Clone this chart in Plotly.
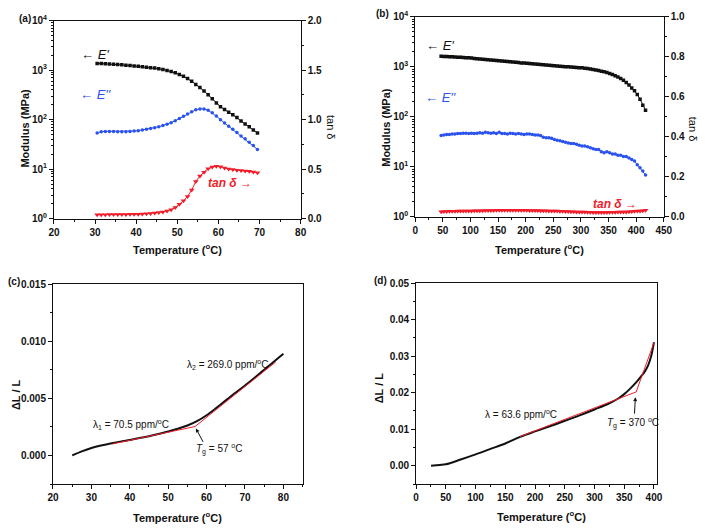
import plotly.graph_objects as go

# ---------------- DATA ----------------
# (a) DMA, low-temperature sample
Ta = [30.5, 31.5, 32.5, 33.5, 34.5, 35.5, 36.5, 37.5, 38.5, 39.5,
      40.5, 41.5, 42.5, 43.5, 44.5, 45.5, 46.5, 47.5, 48.5, 49.5,
      50.5, 51.5, 52.5, 53.5, 54.5, 55.5, 56.5, 57.5, 58.5, 59.5,
      60.5, 61.5, 62.5, 63.5, 64.5, 65.5, 66.5, 67.5, 68.5, 69.5]
Ea_storage = [1370, 1360, 1350, 1335, 1320, 1300, 1280, 1260, 1240, 1215,
              1195, 1175, 1150, 1125, 1100, 1070, 1035, 990, 940, 885,
              820, 750, 675, 595, 515, 445, 380, 318, 265, 218,
              183, 160, 142, 125, 110, 94, 82, 72, 62, 54]
Ea_loss = [54, 57, 58, 58, 58, 57, 57, 57, 58, 59,
           60, 62, 64, 66, 69, 72, 76, 81, 87, 95,
           105, 117, 130, 145, 158, 165, 165, 155, 138, 118,
           100, 86, 74, 64, 55, 47, 41, 35, 30, 25]
Ta_tan = [0.040, 0.040, 0.040, 0.041, 0.041, 0.042, 0.042, 0.043, 0.044, 0.045,
          0.046, 0.048, 0.050, 0.053, 0.057, 0.062, 0.068, 0.077, 0.090, 0.113,
          0.145, 0.180, 0.225, 0.290, 0.375, 0.430, 0.470, 0.505, 0.522, 0.530,
          0.525, 0.512, 0.503, 0.496, 0.490, 0.486, 0.482, 0.478, 0.472, 0.465]

# (b) DMA, high-temperature sample
Tb = [47, 52, 57, 62, 67, 72, 77, 82, 87, 92, 97, 102, 107, 112, 117,
      122, 127, 132, 137, 142, 147, 152, 157, 162, 167, 172, 177, 182, 187, 192,
      197, 202, 207, 212, 217, 222, 227, 232, 237, 242, 247, 252, 257, 262, 267,
      272, 277, 282, 287, 292, 297, 302, 307, 312, 317, 322, 327, 332, 337, 342,
      347, 352, 357, 362, 367, 372, 377, 382, 387, 392, 397, 402, 407, 412, 417]
Eb_storage = [1615, 1610, 1600, 1590, 1580, 1570, 1555, 1545, 1530, 1515, 1505, 1490, 1470, 1450, 1430,
              1410, 1395, 1375, 1360, 1345, 1330, 1315, 1300, 1285, 1270, 1255, 1240, 1225, 1210, 1195,
              1185, 1175, 1160, 1150, 1135, 1120, 1110, 1095, 1085, 1070, 1060, 1048, 1035, 1025, 1015,
              1005, 995, 985, 975, 965, 958, 950, 935, 920, 900, 880, 860, 840, 815, 790,
              765, 735, 700, 660, 620, 580, 535, 485, 430, 375, 330, 280, 225, 170, 135]
Eb_loss = [42, 43, 44, 44, 45, 45, 46, 46, 47, 47, 46, 47, 46, 47, 48,
           47, 49, 48, 47, 48, 46, 49, 46, 46, 45, 47, 46, 45, 46, 45,
           44, 45, 45, 44, 43, 43, 42, 39, 38, 38, 37, 35, 34, 33, 32,
           31, 30, 29, 29, 28, 27, 26, 26, 25, 24, 23, 22, 22, 20, 19,
           20, 19, 18, 18, 17, 17, 16, 16, 15, 14, 13, 11, 9.5, 8.2, 6.8]
Tb_tan = [0.025, 0.026, 0.026, 0.027, 0.027, 0.027, 0.028, 0.028, 0.028, 0.029, 0.029, 0.029, 0.030, 0.030, 0.030,
          0.030, 0.031, 0.031, 0.031, 0.031, 0.032, 0.032, 0.032, 0.032, 0.032, 0.032, 0.032, 0.032, 0.032, 0.032,
          0.032, 0.032, 0.031, 0.031, 0.031, 0.031, 0.030, 0.030, 0.030, 0.029, 0.029, 0.028, 0.028, 0.027, 0.027,
          0.026, 0.026, 0.025, 0.025, 0.024, 0.024, 0.023, 0.023, 0.022, 0.022, 0.021, 0.021, 0.021, 0.021, 0.021,
          0.021, 0.022, 0.022, 0.022, 0.023, 0.023, 0.024, 0.024, 0.025, 0.026, 0.027, 0.028, 0.029, 0.030, 0.032]

# (c) TMA, low-temperature sample
Tc = [25, 27.5, 30, 32.5, 35, 37.5, 40, 42.5, 45, 47.5, 50, 52.5, 55, 57.5,
      60, 62.5, 65, 67.5, 70, 72.5, 75, 77.5, 80]
dLc = [0.0, 0.00035, 0.00065, 0.00087, 0.00104, 0.00121, 0.00136, 0.00152, 0.00168, 0.00188,
       0.00210, 0.00234, 0.00262, 0.00300, 0.00352, 0.00415, 0.00482, 0.00548, 0.00612, 0.00680,
       0.00750, 0.00820, 0.00890]
fit1c_T = [35.5, 57]
fit1c_y = [0.00101, 0.00253]
fit2c_T = [57, 78]
fit2c_y = [0.00253, 0.00818]

# (d) TMA, high-temperature sample
Td = [25, 40, 50, 75, 100, 125, 150, 175, 200, 225, 250, 275, 300, 325,
      340, 350, 360, 370, 380, 385, 390, 395, 400]
dLd = [0.0, 0.0002, 0.0004, 0.0017, 0.0031, 0.0046, 0.0061, 0.0079, 0.0094, 0.0108,
       0.0123, 0.0138, 0.0154, 0.0171, 0.0184, 0.0196, 0.0211, 0.0228, 0.0248, 0.0259,
       0.0274, 0.0298, 0.0338]
fitd_T = [175, 370, 400]
fitd_y = [0.0080, 0.0202, 0.0337]

# ---------------- STYLE ----------------
W, H = 709, 530
FONT = "Liberation Sans"
BLACK = "#111111"
BLUE = "#2a52ee"
RED = "#f21c2a"

def px(x, y):
    return x / W, 1 - y / H

def dom_x(a, b):
    return [a / W, b / W]

def dom_y(top, bottom):
    return [1 - bottom / H, 1 - top / H]

tickfont = dict(family=FONT, size=10, color=BLACK, weight="bold")

def axis(**kw):
    d = dict(showline=True, linecolor=BLACK, linewidth=1, ticks="outside",
             ticklen=4, tickwidth=1, tickcolor=BLACK, showgrid=False,
             zeroline=False, tickfont=tickfont)
    d.update(kw)
    return d

def minor(dt):
    return dict(ticks="outside", ticklen=2, tickwidth=1, tickcolor=BLACK, showgrid=False, dtick=dt)

fig = go.Figure()

# (a)
fig.add_trace(go.Scatter(x=Ta, y=Ea_storage, mode="lines+markers", xaxis="x", yaxis="y",
                         line=dict(color=BLACK, width=1),
                         marker=dict(symbol="square", size=3.5, color=BLACK)))
fig.add_trace(go.Scatter(x=Ta, y=Ea_loss, mode="lines+markers", xaxis="x", yaxis="y",
                         line=dict(color=BLUE, width=1),
                         marker=dict(symbol="circle", size=3.5, color=BLUE)))
fig.add_trace(go.Scatter(x=Ta, y=Ta_tan, mode="lines+markers", xaxis="x", yaxis="y2",
                         line=dict(color=RED, width=1),
                         marker=dict(symbol="triangle-down", size=5, color=RED)))
# (b)
fig.add_trace(go.Scatter(x=Tb, y=Eb_storage, mode="lines+markers", xaxis="x2", yaxis="y3",
                         line=dict(color=BLACK, width=1),
                         marker=dict(symbol="square", size=3.5, color=BLACK)))
fig.add_trace(go.Scatter(x=Tb, y=Eb_loss, mode="lines+markers", xaxis="x2", yaxis="y3",
                         line=dict(color=BLUE, width=1),
                         marker=dict(symbol="circle", size=3.5, color=BLUE)))
fig.add_trace(go.Scatter(x=Tb, y=Tb_tan, mode="lines+markers", xaxis="x2", yaxis="y4",
                         line=dict(color=RED, width=1),
                         marker=dict(symbol="triangle-down", size=5, color=RED)))
# (c)
fig.add_trace(go.Scatter(x=Tc, y=dLc, mode="lines", xaxis="x3", yaxis="y5",
                         line=dict(color=BLACK, width=2, shape="spline")))
fig.add_trace(go.Scatter(x=fit1c_T, y=fit1c_y, mode="lines", xaxis="x3", yaxis="y5",
                         line=dict(color=RED, width=1)))
fig.add_trace(go.Scatter(x=fit2c_T, y=fit2c_y, mode="lines", xaxis="x3", yaxis="y5",
                         line=dict(color=RED, width=1)))
# (d)
fig.add_trace(go.Scatter(x=Td, y=dLd, mode="lines", xaxis="x4", yaxis="y6",
                         line=dict(color=BLACK, width=2, shape="spline")))
fig.add_trace(go.Scatter(x=fitd_T, y=fitd_y, mode="lines", xaxis="x4", yaxis="y6",
                         line=dict(color=RED, width=1)))

log_vals = [1, 10, 100, 1000, 10000]
log_text = ["10<sup>0</sup>", "10<sup>1</sup>", "10<sup>2</sup>", "10<sup>3</sup>", "10<sup>4</sup>"]

layout = dict(
    width=W, height=H, margin=dict(l=0, r=0, t=0, b=0),
    paper_bgcolor="white", plot_bgcolor="white", showlegend=False,
    font=dict(family=FONT, color=BLACK),
    # (a)
    xaxis=axis(domain=dom_x(49, 301), anchor="y", range=[20, 80], dtick=10,
               minor=minor(5), mirror=True),
    yaxis=axis(domain=dom_y(14, 217), anchor="x", type="log", range=[0, 4],
               tickvals=log_vals, ticktext=log_text, minor=minor("D1")),
    yaxis2=axis(overlaying="y", side="right", anchor="x", range=[0, 2.0], dtick=0.5,
                tickformat=".1f", minor=minor(0.25)),
    # (b)
    xaxis2=axis(domain=dom_x(418, 672), anchor="y3", range=[0, 450], dtick=50,
                minor=minor(25), mirror=True),
    yaxis3=axis(domain=dom_y(10, 215), anchor="x2", type="log", range=[0, 4],
                tickvals=log_vals, ticktext=log_text, minor=minor("D1")),
    yaxis4=axis(overlaying="y3", side="right", anchor="x2", range=[0, 1.0], dtick=0.2,
                tickformat=".1f", minor=minor(0.1)),
    # (c)
    xaxis3=axis(domain=dom_x(48, 303), anchor="y5", range=[20, 85], dtick=10, tick0=20,
                minor=minor(5), mirror=True),
    yaxis5=axis(domain=dom_y(284, 489), anchor="x3", range=[-0.0025, 0.015], dtick=0.005, tick0=0,
                tickformat=".3f", minor=minor(0.0025), mirror=True),
    # (d)
    xaxis4=axis(domain=dom_x(419, 665), anchor="y6", range=[0, 405], dtick=50,
                minor=minor(25), mirror=True),
    yaxis6=axis(domain=dom_y(283, 489), anchor="x4", range=[-0.005, 0.05], dtick=0.01, tick0=0,
                tickformat=".2f", minor=minor(0.005), mirror=True),
)
fig.update_layout(**layout)

def txt(x, y, text, size=11, color=BLACK, angle=0, bold=True):
    X, Y = px(x, y)
    fig.add_annotation(x=X, y=Y, xref="paper", yref="paper", text=text, showarrow=False,
                       textangle=angle, xanchor="center", yanchor="middle",
                       font=dict(family=FONT, size=size, color=color,
                                 weight="bold" if bold else "normal"))

def arrow(x_head, y_head, x_tail, y_tail, color=BLACK):
    X, Y = px(x_head, y_head)
    fig.add_annotation(x=X, y=Y, xref="paper", yref="paper", text="", showarrow=True,
                       ax=x_tail - x_head, ay=y_tail - y_head, arrowhead=2, arrowsize=0.8,
                       arrowwidth=1, arrowcolor=color)

temp_title = "Temperature (<sup>o</sup>C)"
# panel labels
txt(19, 12, "(a)", 10)
txt(385, 7, "(b)", 10)
txt(8, 281, "(c)", 10)
txt(383, 280, "(d)", 10)
# axis titles
txt(19, 124, "Modulus (MPa)", 11, angle=-90)
txt(332, 123, "tan δ", 11, angle=90, bold=False)
txt(175, 248, temp_title, 11)
txt(388, 123, "Modulus (MPa)", 11, angle=-90)
txt(702, 125, "tan δ", 11, angle=90, bold=False)
txt(545, 248, temp_title, 11)
txt(10, 397, "ΔL / L", 11, angle=-90)
txt(175, 523, temp_title, 11)
txt(382, 390, "ΔL / L", 11, angle=-90)
txt(547, 522, temp_title, 11)
# series labels (a)
txt(91, 49, "← <i>E'</i>", 13, bold=False)
txt(91, 90, "← <i>E''</i>", 13, color=BLUE, bold=False)
txt(229, 180, "<i>tan δ</i> →", 12, color=RED)
# series labels (b)
txt(443, 39, "← <i>E'</i>", 13, bold=False)
txt(444, 93, "← <i>E''</i>", 13, color=BLUE, bold=False)
txt(622, 202, "<i>tan δ</i> →", 12, color=RED)
# (c) annotations
txt(128, 428, "λ<sub>1</sub> = 70.5 ppm/<sup>o</sup>C", 10, bold=False)
txt(226, 366, "λ<sub>2</sub> = 269.0 ppm/<sup>o</sup>C", 10, bold=False)
txt(218, 453, "<i>T</i><sub>g</sub> = 57 <sup>o</sup>C", 10, bold=False)
arrow(194, 432, 202, 447)
# (d) annotations
txt(526, 417, "λ = 63.6 ppm/<sup>o</sup>C", 10, bold=False)
txt(641, 426, "<i>T</i><sub>g</sub> = 370 <sup>o</sup>C", 10, bold=False)
arrow(643, 400, 642, 418)

fig.write_html("out.html")
